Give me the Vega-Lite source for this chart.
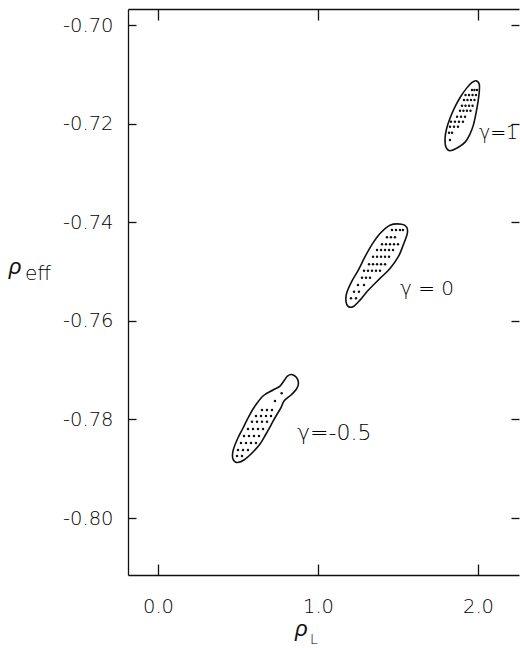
{
 "$schema": "https://vega.github.io/schema/vega-lite/v6.json",
 "width": 391,
 "height": 566,
 "autosize": {"type": "none"},
 "padding": {"left": 128, "top": 9, "right": 1, "bottom": 73},
 "background": "white",
 "config": {
  "view": {"stroke": null},
  "axis": {"grid": false, "domainColor": "#111", "tickColor": "#111", "domainWidth": 1.3, "tickWidth": 1.3, "labelFont": "DejaVu Sans", "labelFontSize": 19.5, "labelFontWeight": 200, "labelColor": "#000", "title": null}
 },
 "datasets": {
  "outline": [
   {"g": "1", "i": 0, "x": 1.9875, "y": -0.7113}, {"g": "1", "i": 1, "x": 2.008, "y": -0.712}, {"g": "1", "i": 2, "x": 2.008, "y": -0.7135}, {"g": "1", "i": 3, "x": 2.0, "y": -0.7156}, {"g": "1", "i": 4, "x": 1.9875, "y": -0.7179}, {"g": "1", "i": 5, "x": 1.971, "y": -0.7203}, {"g": "1", "i": 6, "x": 1.95, "y": -0.7221}, {"g": "1", "i": 7, "x": 1.921, "y": -0.7237}, {"g": "1", "i": 8, "x": 1.877, "y": -0.7248}, {"g": "1", "i": 9, "x": 1.825, "y": -0.7255}, {"g": "1", "i": 10, "x": 1.8, "y": -0.7248}, {"g": "1", "i": 11, "x": 1.794, "y": -0.723}, {"g": "1", "i": 12, "x": 1.804, "y": -0.721}, {"g": "1", "i": 13, "x": 1.825, "y": -0.7189}, {"g": "1", "i": 14, "x": 1.856, "y": -0.7166}, {"g": "1", "i": 15, "x": 1.892, "y": -0.7145}, {"g": "1", "i": 16, "x": 1.929, "y": -0.7128}, {"g": "1", "i": 17, "x": 1.961, "y": -0.7117},
   {"g": "0", "i": 0, "x": 1.523, "y": -0.7404}, {"g": "0", "i": 1, "x": 1.45, "y": -0.7406}, {"g": "0", "i": 2, "x": 1.3875, "y": -0.7423}, {"g": "0", "i": 3, "x": 1.336, "y": -0.7446}, {"g": "0", "i": 4, "x": 1.294, "y": -0.747}, {"g": "0", "i": 5, "x": 1.252, "y": -0.7497}, {"g": "0", "i": 6, "x": 1.211, "y": -0.752}, {"g": "0", "i": 7, "x": 1.179, "y": -0.7544}, {"g": "0", "i": 8, "x": 1.175, "y": -0.7561}, {"g": "0", "i": 9, "x": 1.189, "y": -0.7571}, {"g": "0", "i": 10, "x": 1.221, "y": -0.7571}, {"g": "0", "i": 11, "x": 1.2625, "y": -0.7558}, {"g": "0", "i": 12, "x": 1.314, "y": -0.7538}, {"g": "0", "i": 13, "x": 1.3875, "y": -0.7514}, {"g": "0", "i": 14, "x": 1.45, "y": -0.7494}, {"g": "0", "i": 15, "x": 1.502, "y": -0.747}, {"g": "0", "i": 16, "x": 1.533, "y": -0.7446}, {"g": "0", "i": 17, "x": 1.558, "y": -0.7423}, {"g": "0", "i": 18, "x": 1.554, "y": -0.741},
   {"g": "-0.5", "i": 0, "x": 0.8356, "y": -0.77089}, {"g": "-0.5", "i": 1, "x": 0.8656, "y": -0.7715}, {"g": "-0.5", "i": 2, "x": 0.878, "y": -0.77262}, {"g": "-0.5", "i": 3, "x": 0.8656, "y": -0.77383}, {"g": "-0.5", "i": 4, "x": 0.83125, "y": -0.77505}, {"g": "-0.5", "i": 5, "x": 0.7875, "y": -0.77627}, {"g": "-0.5", "i": 6, "x": 0.76875, "y": -0.77759}, {"g": "-0.5", "i": 7, "x": 0.7375, "y": -0.77931}, {"g": "-0.5", "i": 8, "x": 0.70625, "y": -0.78114}, {"g": "-0.5", "i": 9, "x": 0.675, "y": -0.78296}, {"g": "-0.5", "i": 10, "x": 0.6375, "y": -0.78499}, {"g": "-0.5", "i": 11, "x": 0.5875, "y": -0.78682}, {"g": "-0.5", "i": 12, "x": 0.5375, "y": -0.78824}, {"g": "-0.5", "i": 13, "x": 0.49375, "y": -0.78874}, {"g": "-0.5", "i": 14, "x": 0.46875, "y": -0.78803}, {"g": "-0.5", "i": 15, "x": 0.46875, "y": -0.78641}, {"g": "-0.5", "i": 16, "x": 0.49375, "y": -0.78418}, {"g": "-0.5", "i": 17, "x": 0.53125, "y": -0.78174}, {"g": "-0.5", "i": 18, "x": 0.56875, "y": -0.77931}, {"g": "-0.5", "i": 19, "x": 0.60625, "y": -0.77728}, {"g": "-0.5", "i": 20, "x": 0.65625, "y": -0.77525}, {"g": "-0.5", "i": 21, "x": 0.71875, "y": -0.77404}, {"g": "-0.5", "i": 22, "x": 0.7625, "y": -0.77323}, {"g": "-0.5", "i": 23, "x": 0.790625, "y": -0.77201}, {"g": "-0.5", "i": 24, "x": 0.809, "y": -0.7712}
  ],
  "pts": [
   {"g": "1", "x": 1.9625, "y": -0.71318}, {"g": "1", "x": 1.978, "y": -0.71318}, {"g": "1", "x": 1.994, "y": -0.71318},
   {"g": "1", "x": 1.922, "y": -0.7142}, {"g": "1", "x": 1.944, "y": -0.7142}, {"g": "1", "x": 1.966, "y": -0.7142}, {"g": "1", "x": 1.9875, "y": -0.7142},
   {"g": "1", "x": 1.9125, "y": -0.71521}, {"g": "1", "x": 1.934, "y": -0.71521}, {"g": "1", "x": 1.956, "y": -0.71521}, {"g": "1", "x": 1.978, "y": -0.71521},
   {"g": "1", "x": 1.9, "y": -0.71637}, {"g": "1", "x": 1.922, "y": -0.71637}, {"g": "1", "x": 1.944, "y": -0.71637}, {"g": "1", "x": 1.966, "y": -0.71637},
   {"g": "1", "x": 1.8875, "y": -0.71738}, {"g": "1", "x": 1.909, "y": -0.71738}, {"g": "1", "x": 1.931, "y": -0.71738}, {"g": "1", "x": 1.953, "y": -0.71738},
   {"g": "1", "x": 1.869, "y": -0.7186}, {"g": "1", "x": 1.894, "y": -0.7186}, {"g": "1", "x": 1.919, "y": -0.7186},
   {"g": "1", "x": 1.831, "y": -0.71961}, {"g": "1", "x": 1.856, "y": -0.71961}, {"g": "1", "x": 1.881, "y": -0.71961}, {"g": "1", "x": 1.906, "y": -0.71961},
   {"g": "1", "x": 1.825, "y": -0.72063}, {"g": "1", "x": 1.85, "y": -0.72063}, {"g": "1", "x": 1.875, "y": -0.72063},
   {"g": "1", "x": 1.819, "y": -0.72185}, {"g": "1", "x": 1.8375, "y": -0.72185},
   {"g": "1", "x": 1.825, "y": -0.72333},
   {"g": "0", "x": 1.4625, "y": -0.74158}, {"g": "0", "x": 1.4875, "y": -0.74158}, {"g": "0", "x": 1.5125, "y": -0.74158}, {"g": "0", "x": 1.531, "y": -0.74158},
   {"g": "0", "x": 1.431, "y": -0.74306}, {"g": "0", "x": 1.456, "y": -0.74306}, {"g": "0", "x": 1.481, "y": -0.74306},
   {"g": "0", "x": 1.4, "y": -0.74448}, {"g": "0", "x": 1.425, "y": -0.74448}, {"g": "0", "x": 1.45, "y": -0.74448}, {"g": "0", "x": 1.475, "y": -0.74448}, {"g": "0", "x": 1.5, "y": -0.74448},
   {"g": "0", "x": 1.369, "y": -0.74564}, {"g": "0", "x": 1.394, "y": -0.74564}, {"g": "0", "x": 1.419, "y": -0.74564}, {"g": "0", "x": 1.444, "y": -0.74564}, {"g": "0", "x": 1.469, "y": -0.74564},
   {"g": "0", "x": 1.344, "y": -0.747}, {"g": "0", "x": 1.369, "y": -0.747}, {"g": "0", "x": 1.394, "y": -0.747}, {"g": "0", "x": 1.419, "y": -0.747}, {"g": "0", "x": 1.444, "y": -0.747},
   {"g": "0", "x": 1.319, "y": -0.74854}, {"g": "0", "x": 1.344, "y": -0.74854}, {"g": "0", "x": 1.369, "y": -0.74854}, {"g": "0", "x": 1.394, "y": -0.74854}, {"g": "0", "x": 1.419, "y": -0.74854},
   {"g": "0", "x": 1.2875, "y": -0.74984}, {"g": "0", "x": 1.3125, "y": -0.74984}, {"g": "0", "x": 1.3375, "y": -0.74984}, {"g": "0", "x": 1.3625, "y": -0.74984}, {"g": "0", "x": 1.3875, "y": -0.74984},
   {"g": "0", "x": 1.275, "y": -0.75126}, {"g": "0", "x": 1.3, "y": -0.75126}, {"g": "0", "x": 1.325, "y": -0.75126},
   {"g": "0", "x": 1.25, "y": -0.75274}, {"g": "0", "x": 1.2875, "y": -0.75274},
   {"g": "0", "x": 1.225, "y": -0.7541}, {"g": "0", "x": 1.256, "y": -0.7541},
   {"g": "0", "x": 1.206, "y": -0.75544}, {"g": "0", "x": 1.2375, "y": -0.75544},
   {"g": "-0.5", "x": 0.773, "y": -0.77471}, {"g": "-0.5", "x": 0.73125, "y": -0.77627},
   {"g": "-0.5", "x": 0.65, "y": -0.77809}, {"g": "-0.5", "x": 0.68125, "y": -0.77809}, {"g": "-0.5", "x": 0.7125, "y": -0.77809},
   {"g": "-0.5", "x": 0.6125, "y": -0.77931}, {"g": "-0.5", "x": 0.64375, "y": -0.77931}, {"g": "-0.5", "x": 0.675, "y": -0.77931}, {"g": "-0.5", "x": 0.70625, "y": -0.77931},
   {"g": "-0.5", "x": 0.5875, "y": -0.78047}, {"g": "-0.5", "x": 0.61875, "y": -0.78047}, {"g": "-0.5", "x": 0.65, "y": -0.78047}, {"g": "-0.5", "x": 0.68125, "y": -0.78047},
   {"g": "-0.5", "x": 0.5625, "y": -0.78195}, {"g": "-0.5", "x": 0.59375, "y": -0.78195}, {"g": "-0.5", "x": 0.625, "y": -0.78195}, {"g": "-0.5", "x": 0.65625, "y": -0.78195},
   {"g": "-0.5", "x": 0.5375, "y": -0.78337}, {"g": "-0.5", "x": 0.56875, "y": -0.78337}, {"g": "-0.5", "x": 0.6, "y": -0.78337}, {"g": "-0.5", "x": 0.63125, "y": -0.78337},
   {"g": "-0.5", "x": 0.51875, "y": -0.78479}, {"g": "-0.5", "x": 0.55, "y": -0.78479}, {"g": "-0.5", "x": 0.58125, "y": -0.78479}, {"g": "-0.5", "x": 0.6125, "y": -0.78479},
   {"g": "-0.5", "x": 0.5, "y": -0.78621}, {"g": "-0.5", "x": 0.53125, "y": -0.78621}, {"g": "-0.5", "x": 0.5625, "y": -0.78621},
   {"g": "-0.5", "x": 0.49375, "y": -0.78742}, {"g": "-0.5", "x": 0.525, "y": -0.78742}
  ]
 },
 "resolve": {"axis": {"x": "independent", "y": "independent"}},
 "layer": [
  {
   "data": {"name": "outline"},
   "mark": {"type": "line", "stroke": "#111", "strokeWidth": 1.6, "interpolate": "cardinal-closed"},
   "encoding": {
    "x": {"field": "x", "type": "quantitative", "scale": {"domain": [-0.1875, 2.25625], "nice": false, "zero": false},
          "axis": {"orient": "bottom", "values": [0, 1, 2], "format": ".1f", "tickSize": -11, "labelPadding": 33}},
    "y": {"field": "y", "type": "quantitative", "scale": {"domain": [-0.81156, -0.69675], "nice": false, "zero": false},
          "axis": {"orient": "left", "values": [-0.7, -0.72, -0.74, -0.76, -0.78, -0.8], "tickSize": -8, "labelPadding": 23, "labelExpr": "'-' + format(abs(datum.value), '.2f')"}},
    "detail": {"field": "g"},
    "order": {"field": "i", "type": "quantitative"}
   }
  },
  {
   "data": {"name": "pts"},
   "mark": {"type": "point", "filled": true, "size": 6, "color": "#111", "opacity": 1},
   "encoding": {
    "x": {"field": "x", "type": "quantitative", "axis": {"orient": "top", "values": [0, 1, 2], "tickSize": -11, "labels": false}},
    "y": {"field": "y", "type": "quantitative", "axis": {"orient": "right", "values": [-0.7, -0.72, -0.74, -0.76, -0.78, -0.8], "tickSize": -8, "labels": false, "domain": false}}
   }
  },
  {
   "data": {"values": [{}]},
   "mark": {"type": "text", "text": "γ=1", "font": "DejaVu Sans", "fontWeight": 200, "fontSize": 19, "align": "left", "baseline": "middle", "color": "#000"},
   "encoding": {"x": {"datum": 2.006, "type": "quantitative", "axis": null}, "y": {"datum": -0.7219, "type": "quantitative", "axis": null}}
  },
  {
   "data": {"values": [{}]},
   "mark": {"type": "text", "text": "γ = 0", "font": "DejaVu Sans", "fontWeight": 200, "fontSize": 20, "align": "left", "baseline": "middle", "color": "#000"},
   "encoding": {"x": {"datum": 1.5125, "type": "quantitative", "axis": null}, "y": {"datum": -0.75355, "type": "quantitative", "axis": null}}
  },
  {
   "data": {"values": [{}]},
   "mark": {"type": "text", "text": "γ=-0.5", "font": "DejaVu Sans", "fontWeight": 200, "fontSize": 22, "align": "left", "baseline": "middle", "color": "#000"},
   "encoding": {"x": {"datum": 0.869, "type": "quantitative", "axis": null}, "y": {"datum": -0.7828, "type": "quantitative", "axis": null}}
  },
  {
   "data": {"values": [{}]},
   "mark": {"type": "text", "text": "ρ", "font": "Liberation Sans", "fontStyle": "italic", "fontSize": 22, "align": "center", "baseline": "alphabetic", "color": "#111"},
   "encoding": {"x": {"datum": -0.894, "type": "quantitative", "axis": null}, "y": {"datum": -0.75051, "type": "quantitative", "axis": null}}
  },
  {
   "data": {"values": [{}]},
   "mark": {"type": "text", "text": "eff", "font": "DejaVu Sans", "fontWeight": 200, "fontSize": 20, "align": "left", "baseline": "alphabetic", "color": "#000"},
   "encoding": {"x": {"datum": -0.83125, "type": "quantitative", "axis": null}, "y": {"datum": -0.75172, "type": "quantitative", "axis": null}}
  },
  {
   "data": {"values": [{}]},
   "mark": {"type": "text", "text": "ρ", "font": "Liberation Sans", "fontStyle": "italic", "fontSize": 22, "align": "left", "baseline": "alphabetic", "color": "#111"},
   "encoding": {"x": {"datum": 0.856, "type": "quantitative", "axis": null}, "y": {"datum": -0.82394, "type": "quantitative", "axis": null}}
  },
  {
   "data": {"values": [{}]},
   "mark": {"type": "text", "text": "L", "font": "DejaVu Sans", "fontWeight": 200, "fontSize": 14, "align": "left", "baseline": "alphabetic", "color": "#000"},
   "encoding": {"x": {"datum": 0.95, "type": "quantitative", "axis": null}, "y": {"datum": -0.82556, "type": "quantitative", "axis": null}}
  }
 ]
}
